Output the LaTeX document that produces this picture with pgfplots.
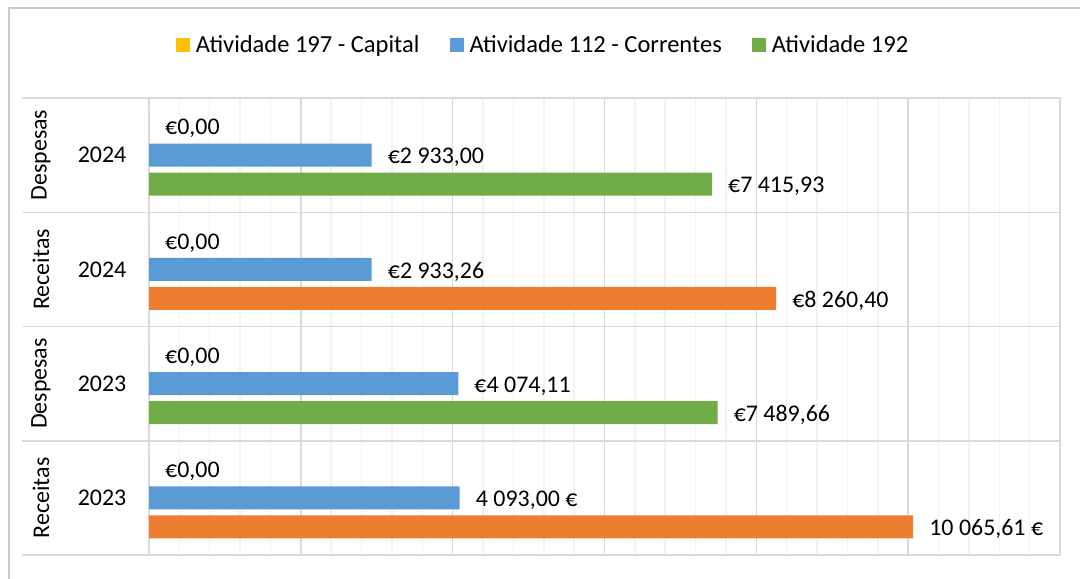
\documentclass[border=0pt]{standalone}
\usepackage{fontspec}
\setmainfont{Carlito}
\usepackage{pgfplots}
\pgfplotsset{compat=1.18}
\definecolor{cYel}{HTML}{FFC000}
\definecolor{cBlu}{HTML}{5B9BD5}
\definecolor{cGrn}{HTML}{70AD47}
\definecolor{cOra}{HTML}{ED7D31}
\definecolor{gMaj}{HTML}{D9D9D9}
\definecolor{gMin}{HTML}{F2F2F2}
\definecolor{frameC}{HTML}{C8C8C8}
\newcommand{\fs}{\fontsize{24}{28}\selectfont}
\newcommand{\fl}{\fontsize{24.6}{29}\selectfont}
\begin{document}
\begin{tikzpicture}
\useasboundingbox (0,0) rectangle (1080bp,579bp);
\fill[white] (0,0) rectangle (1080bp,579bp);
\draw[frameC, line width=2bp] (9bp,0) -- (9bp,571bp) -- (1080bp,571bp);
\begin{axis}[
  at={(149bp,24bp)}, anchor=south west,
  scale only axis, width=911bp, height=457bp,
  xmin=0, xmax=12000, ymin=-0.5, ymax=3.5,
  xbar, bar width=0.2,
  axis line style={draw=none},
  xtick={0,2000,...,12000}, minor x tick num=4,
  xticklabels=\empty, xtick style={draw=none},
  xmajorgrids, xminorgrids,
  major x grid style={gMaj, line width=1.5bp},
  minor x grid style={gMin, line width=1.5bp},
  ytick={-0.5,0.5,1.5,2.5,3.5}, yticklabels=\empty, ytick pos=left,
  ymajorgrids, major y grid style={gMaj, line width=1.5bp},
  tick align=outside, major tick length=127bp,
  ytick style={gMaj, line width=1.5bp},
  clip=false,
  point meta=explicit symbolic,
  nodes near coords,
  every node near coord/.append style={anchor=west, xshift=16bp, yshift=-2.5bp, inner sep=0pt, font=\fs, text=black},
  legend columns=3,
  legend style={at={(0.4315,1.116)}, anchor=center, draw=none, fill=none, font=\fl,
    nodes={inner sep=0pt},
    /tikz/every odd column/.append style={column sep=6bp},
    /tikz/every even column/.append style={column sep=30bp}},
  legend image code/.code={\fill[#1] (0bp,-7bp) rectangle (14bp,7bp);},
]
\addplot[fill=cYel, draw=none, bar shift=0.254] coordinates {
  (0,3) [€0,00]
  (0,2) [€0,00]
  (0,1) [€0,00]
  (0,0) [€0,00]
};
\addlegendentry{Atividade 197 - Capital}
\addplot[fill=cBlu, draw=none, bar shift=0] coordinates {
  (2933.00,3) [€2~933,00]
  (2933.26,2) [€2~933,26]
  (4074.11,1) [€4~074,11]
  (4093.00,0) [4~093,00~€]
};
\addlegendentry{Atividade 112 - Correntes}
\addplot[fill=cGrn, draw=none, bar shift=-0.254] coordinates {
  (7415.93,3) [€7~415,93]
  (7489.66,1) [€7~489,66]
};
\addlegendentry{Atividade 192}
\addplot[fill=cOra, draw=none, bar shift=-0.254, forget plot] coordinates {
  (8260.40,2) [€8~260,40]
  (10065.61,0) [10~065,61~€]
};
\node[font=\fs] at ([xshift=-47bp]axis cs:0,3) {2024};
\node[font=\fs] at ([xshift=-47bp]axis cs:0,2) {2024};
\node[font=\fs] at ([xshift=-47bp]axis cs:0,1) {2023};
\node[font=\fs] at ([xshift=-47bp]axis cs:0,0) {2023};
\node[font=\fs, rotate=90] at ([xshift=-108bp]axis cs:0,3) {Despesas};
\node[font=\fs, rotate=90] at ([xshift=-108bp]axis cs:0,2) {Receitas};
\node[font=\fs, rotate=90] at ([xshift=-108bp]axis cs:0,1) {Despesas};
\node[font=\fs, rotate=90] at ([xshift=-108bp]axis cs:0,0) {Receitas};
\end{axis}
\end{tikzpicture}
\end{document}
